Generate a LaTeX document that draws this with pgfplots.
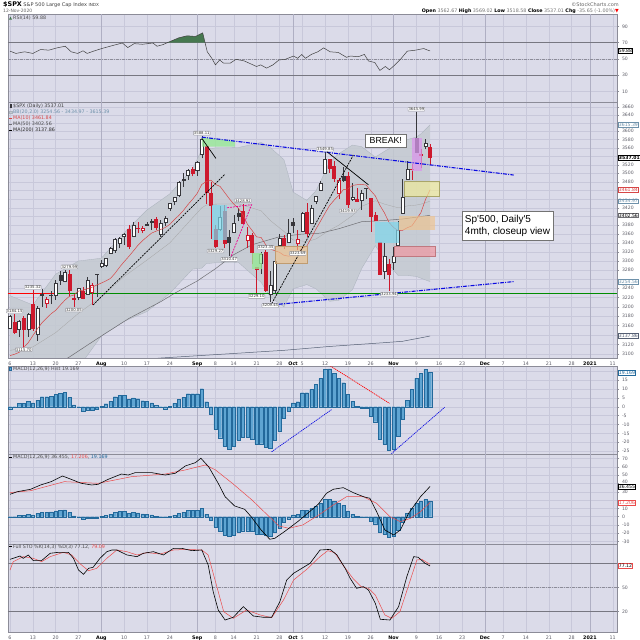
\documentclass[border=0pt]{standalone}
\usepackage{pgfplots}
\pgfplotsset{compat=1.18}
\usepackage{pgfplotstable}
\usepackage{fontspec}
\setmainfont{DejaVu Sans}
\newfontfamily\arialf{Liberation Sans}

\definecolor{panelbg}{RGB}{219,219,233}
\definecolor{gridc}{RGB}{200,200,218}
\definecolor{monthc}{RGB}{175,175,195}
\definecolor{bordc}{RGB}{140,140,152}
\definecolor{tickc}{RGB}{95,95,105}
\definecolor{bbfill}{RGB}{196,202,209}
\definecolor{bbline}{RGB}{170,178,188}
\definecolor{cred}{RGB}{205,25,45}
\definecolor{cdark}{RGB}{55,55,60}
\definecolor{ma10c}{RGB}{215,70,70}
\definecolor{ma50c}{RGB}{110,110,115}
\definecolor{ma200c}{RGB}{85,95,115}
\definecolor{histfill}{RGB}{95,165,210}
\definecolor{histdraw}{RGB}{35,105,155}
\definecolor{sigred}{RGB}{235,75,75}
\definecolor{rsigreen}{RGB}{70,120,80}
\definecolor{tblue}{RGB}{10,10,225}
\definecolor{bbtext}{RGB}{110,145,170}
\definecolor{lblgray}{RGB}{150,150,160}
\definecolor{zgreen}{RGB}{150,232,150}
\definecolor{zcyan}{RGB}{125,215,235}
\definecolor{zorange}{RGB}{240,195,140}
\definecolor{zpink}{RGB}{240,150,160}
\definecolor{zyellow}{RGB}{242,236,150}
\definecolor{zviolet}{RGB}{218,150,235}

% daily candles, 6 Jul - 12 Nov 2020 (row = trading day)
\pgfplotstableread{
i o h l c
0 3155.29 3182.59 3155.29 3179.72
1 3166.44 3184.15 3142.93 3145.32
2 3153.07 3171.80 3136.53 3169.94
3 3176.17 3179.78 3115.70 3152.05
4 3152.47 3186.82 3136.22 3185.04
5 3205.08 3235.32 3149.43 3155.22
6 3141.11 3200.95 3127.66 3197.52
7 3225.98 3238.28 3200.76 3226.56
8 3208.36 3220.39 3198.59 3215.57
9 3224.21 3233.52 3205.65 3224.73
10 3224.29 3258.61 3215.16 3251.84
11 3268.52 3277.29 3247.77 3257.30
12 3254.86 3279.32 3253.10 3276.02
13 3271.64 3279.99 3222.66 3235.66
14 3218.58 3227.26 3200.05 3215.63
15 3219.84 3241.43 3214.25 3239.41
16 3234.27 3243.72 3216.17 3218.44
17 3227.22 3264.74 3227.22 3258.44
18 3231.76 3250.92 3204.13 3246.22
19 3270.45 3272.17 3220.26 3271.12
20 3288.26 3302.73 3284.53 3294.61
21 3289.92 3306.84 3286.37 3306.51
22 3317.37 3330.77 3317.37 3327.77
23 3323.17 3351.03 3318.14 3349.16
24 3340.05 3352.54 3328.72 3351.28
25 3356.04 3363.29 3335.44 3360.47
26 3370.34 3381.01 3326.44 3333.69
27 3355.46 3387.89 3355.46 3380.35
28 3372.95 3387.24 3363.35 3373.43
29 3368.66 3378.51 3361.64 3372.85
30 3380.86 3387.59 3379.22 3381.99
31 3387.04 3395.06 3370.15 3389.78
32 3392.51 3399.54 3369.66 3374.85
33 3360.48 3390.80 3354.69 3385.51
34 3386.01 3399.96 3379.31 3397.16
35 3418.09 3432.09 3413.13 3431.28
36 3435.95 3444.21 3425.84 3443.62
37 3449.97 3481.07 3444.15 3478.73
38 3485.14 3501.38 3468.35 3484.55
39 3494.69 3509.23 3484.32 3508.01
40 3509.73 3514.77 3493.25 3500.31
41 3507.44 3528.03 3494.60 3526.65
42 3543.76 3588.11 3535.23 3580.84
43 3564.74 3564.85 3427.41 3455.06
44 3453.60 3479.15 3349.63 3426.96
45 3371.88 3379.97 3329.27 3331.84
46 3369.82 3424.77 3366.84 3398.96
47 3412.56 3425.55 3329.25 3339.19
48 3352.70 3368.95 3310.47 3340.97
49 3363.56 3402.93 3363.56 3383.54
50 3407.73 3419.48 3389.25 3401.20
51 3411.23 3428.92 3384.45 3385.49
52 3346.86 3375.17 3328.82 3357.01
53 3357.38 3362.27 3292.40 3319.47
54 3285.57 3285.57 3229.10 3281.06
55 3295.75 3320.31 3270.95 3315.57
56 3320.11 3323.35 3232.57 3236.92
57 3226.14 3278.70 3209.45 3246.59
58 3236.66 3306.88 3228.44 3298.46
59 3333.90 3360.74 3332.91 3351.60
60 3350.92 3357.92 3327.54 3335.47
61 3341.21 3393.56 3340.47 3363.00
62 3385.87 3397.18 3361.39 3380.80
63 3338.94 3369.10 3323.69 3348.44
64 3367.27 3409.57 3367.27 3408.63
65 3408.74 3431.56 3354.54 3360.97
66 3384.56 3426.26 3384.56 3419.44
67 3434.28 3447.28 3428.15 3446.83
68 3459.67 3482.34 3458.07 3477.13
69 3500.02 3549.85 3499.61 3534.22
70 3534.01 3534.01 3500.86 3511.93
71 3515.47 3527.94 3480.55 3488.67
72 3453.72 3489.08 3440.89 3483.34
73 3493.50 3515.76 3480.45 3483.81
74 3493.66 3502.42 3419.93 3426.92
75 3439.38 3476.93 3435.65 3443.12
76 3439.91 3464.86 3433.06 3435.56
77 3438.50 3460.53 3415.34 3453.49
78 3464.90 3466.46 3440.45 3465.39
79 3441.42 3441.42 3364.86 3400.97
80 3403.15 3409.51 3388.71 3390.68
81 3342.48 3342.48 3268.89 3271.03
82 3277.17 3341.05 3259.82 3310.11
83 3293.59 3304.93 3233.94 3269.96
84 3296.20 3330.14 3279.74 3310.24
85 3336.25 3389.49 3336.25 3369.16
86 3406.46 3486.25 3405.17 3443.44
87 3485.74 3529.05 3485.74 3510.45
88 3508.34 3521.58 3484.34 3509.44
89 3583.04 3645.99 3547.48 3550.50
90 3543.26 3557.22 3511.91 3545.53
91 3563.22 3581.16 3557.00 3572.66
92 3562.67 3569.02 3518.58 3537.01
}\ohlc

\pgfplotstableread{
i v
0 3097.14
1 3099.89
2 3103.75
3 3113.92
4 3124.05
5 3138.67
6 3153.10
7 3165.72
8 3175.70
9 3185.17
10 3192.38
11 3203.58
12 3214.19
13 3222.55
14 3225.61
15 3234.02
16 3236.12
17 3239.30
18 3242.37
19 3247.01
20 3251.29
21 3256.21
22 3261.38
23 3272.73
24 3286.30
25 3298.40
26 3309.93
27 3322.12
28 3334.84
29 3345.01
30 3353.75
31 3362.08
32 3366.79
33 3370.42
34 3375.01
35 3382.09
36 3393.08
37 3402.92
38 3414.03
39 3427.55
40 3439.38
41 3453.07
42 3473.67
43 3480.62
44 3483.60
45 3473.66
46 3469.19
47 3455.24
48 3440.88
49 3428.43
50 3418.52
51 3404.41
52 3382.02
53 3368.46
54 3353.87
55 3352.25
56 3336.04
57 3326.78
58 3322.53
59 3319.34
60 3312.76
61 3310.52
62 3312.89
63 3315.79
64 3328.55
65 3333.09
66 3351.34
67 3371.36
68 3389.23
69 3407.49
70 3425.14
71 3437.71
72 3447.96
73 3461.50
74 3463.33
75 3471.54
76 3473.15
77 3473.82
78 3472.65
79 3459.32
80 3447.20
81 3425.43
82 3408.11
83 3386.72
84 3375.06
85 3367.66
86 3368.45
87 3374.14
88 3378.55
89 3393.50
90 3408.99
91 3439.15
92 3461.84
}\maten

% Bollinger band: upper, middle, lower
\pgfplotstableread{
i u m l
0 3224 3108 2992
5 3204 3115 3026
10 3271 3145 3018
15 3300 3186 3072
20 3306 3222 3138
25 3363 3266 3169
30 3415 3302 3190
35 3452 3340 3229
40 3511 3397 3282
42 3556 3420 3284
43 3557 3426 3294
45 3560 3428 3296
50 3561 3429 3297
55 3573 3413 3253
57 3561 3391 3221
60 3532 3366 3200
62 3456 3347 3239
65 3437 3343 3248
67 3459 3349 3239
70 3525 3369 3212
72 3546 3380 3214
75 3567 3402 3237
77 3563 3423 3283
80 3538 3436 3334
82 3552 3428 3304
85 3571 3420 3268
87 3580 3424 3268
89 3586 3426 3266
90 3594 3428 3262
92 3615.39 3434.97 3254.56
}\bb

% same band as one closed outline (upper left to right, lower right to left)
\pgfplotstableread{
i v
0 3224
5 3204
10 3271
15 3300
20 3306
25 3363
30 3415
35 3452
40 3511
42 3556
43 3557
45 3560
50 3561
55 3573
57 3561
60 3532
62 3456
65 3437
67 3459
70 3525
72 3546
75 3567
77 3563
80 3538
82 3552
85 3571
87 3580
89 3586
90 3594
92 3615.39
92 3254.56
90 3262
89 3266
87 3268
85 3268
82 3304
80 3334
77 3283
75 3237
72 3214
70 3212
67 3239
65 3248
62 3239
60 3200
57 3221
55 3253
50 3297
45 3296
43 3294
42 3284
40 3282
35 3229
30 3190
25 3169
20 3138
15 3072
10 3018
5 3026
0 2992
}\bbarea

\pgfplotstableread{
i v
10 3078
13 3094
20 3138
26 3175
33 3211
36 3229
41 3256
45 3283
49 3314
53 3336
59 3354
64 3360
68 3362
72 3372
77 3388
82 3391
86 3394
92 3402.56
}\mafifty

\pgfplotstableread{
i v
25 3086
33 3092
50 3102
60 3108
70 3116
76 3120
82 3124
86 3127
92 3137.86
}\matwohundred

\pgfplotstableread{
i v
0 59.6
1.3 56.8
3.2 58.8
5 56.8
6.7 61.6
8.5 60.8
10.3 63.6
12.1 65.6
13.4 58.8
14.8 56.8
16 60
16.9 56.8
18.3 59.6
20.1 62.8
21.9 65.6
24.6 69.6
25.8 64
27.2 68.8
29 68
31.3 69.6
32.2 65.6
33.5 67.6
34.8 70.8
37 76
38.8 78.4
40.6 77.6
42.2 82
43.2 58.8
44.2 50.8
45 42.8
45.9 48.8
46.8 44.8
48.2 44.8
49.5 49.6
51.3 47.6
54 40.8
54.9 42.8
56.2 38.8
57.6 42.8
58.9 48.8
60.3 49.6
61.2 51.6
62.1 53.6
63 50.8
63.9 55.6
64.7 50.8
66 55.6
67.4 58.8
68.7 63.6
70.1 58.8
71.9 58
73.7 52
74.5 53.6
76.3 52.8
77.6 55.6
78.5 47.6
79.9 45.6
81 36
82.2 40.8
83.1 36.8
84.3 42.8
85.7 50.8
87 59.6
88.8 60.8
90.6 62.8
91.5 60.8
92 59.88
}\rsi

\pgfplotstableread{
i v
0 -1.1
1 -0.5
2 1.9
3 1.9
4 3.0
5 2.2
6 3.7
7 5.6
8 5.6
9 5.8
10 6.9
11 7.5
12 8.1
13 5.1
14 1.1
15 -0.4
16 -2.6
17 -1.7
18 -2.2
19 -1.5
20 0.2
21 1.7
22 3.2
23 5.6
24 6.4
25 6.4
26 4.1
27 4.9
28 4.5
29 3.4
30 3.0
31 2.2
32 0.7
33 -0.4
34 -1.1
35 0.4
36 1.9
37 4.1
38 5.4
39 7.3
40 7.3
41 7.3
42 10.1
43 2.8
44 -4.3
45 -12.7
46 -17.4
47 -22.1
48 -24.0
49 -22.1
50 -18.7
51 -16.9
52 -16.9
53 -18.0
54 -21.0
55 -20.8
56 -22.8
57 -23.2
58 -18.7
59 -13.7
60 -6.7
61 -2.4
62 2.2
63 2.8
64 7.9
65 7.9
66 9.7
67 12.5
68 15.8
69 21.0
70 21.3
71 18.7
72 15.9
73 13.5
74 6.9
75 3.2
76 0.4
77 -0.9
78 -0.9
79 -5.2
80 -8.4
81 -18.4
82 -21.0
83 -24.3
84 -24.0
85 -16.5
86 -7.1
87 3.7
88 9.9
89 15.9
90 18.7
91 21.0
92 19.169
}\hist

\pgfplotstableread{
i v
0 27.0
1.6 30.1
4.5 33
6.7 38.2
9.0 42.2
11.5 49
13.4 45
15.6 40.2
17.9 38.2
19.3 39
21.5 45
24.4 51.4
25.9 50.2
27.4 53
31.1 53
34 50.2
36.2 52.3
38.4 61.1
40.6 65.1
41.8 70.4
43.5 60.2
45.6 40.2
47.1 24.1
49.2 12.9
51.4 8.9
52.8 0
55.0 -16
56.9 -27.2
58.0 -26
60.1 -18
63.0 -6
65.2 4.1
67.5 15
69.3 28.2
70.8 33
73.0 35
75.2 28.9
77.4 24.1
78.8 22.2
80.3 6
82.1 -16
84.0 -22
85.5 -16
87.3 4.1
89.9 24.1
92 36.455
}\macd

\pgfplotstableread{
i v
0 29
4.5 31.3
11.9 42.2
19.3 40.2
26.6 48.2
34 51.4
38.4 56.3
42.8 62.3
45 56.3
48.7 40.2
53 20.1
56 4.1
58.9 -11.2
61.1 -14
64.1 -10
67.6 2
70.8 14.1
73.7 24.1
77.4 24.1
80.3 16.1
83.2 0
85.5 -6
87.7 -2
89.9 6
92 17.206
}\signal

\pgfplotstableread{
i v
0 85.5
0.7 86.7
2.2 89.6
2.9 86.7
4.0 90.9
5.1 83.8
6.9 83.8
8.8 93
10.6 94.2
12.8 94.2
13.9 86.7
15 72.1
16.1 66.7
17.2 74.2
18.2 75.5
19.7 86.7
21.2 95
22.3 97.1
23.4 97.1
25.6 90.9
27.8 88.8
29.2 93
31.4 95
33.6 90.9
35.8 99.2
37.6 99.2
39.8 96.3
42.0 97.1
43.4 78.4
44.5 45
45.6 22.1
47.1 9.6
48.9 13
51.1 26.3
53.3 14.6
55.5 13
57.3 13
59.1 32.5
60.6 59.6
62.1 68
63.9 74.2
65.7 80.4
67.9 97.1
70.1 97.9
71.6 90.9
73.4 74.2
74.5 61.7
75.9 49.2
77.4 51.3
78.5 47.1
80 30.5
81.1 10.5
83.2 9.6
85.1 26.3
86.9 63.7
88.4 88.8
89.4 88
90.9 80.4
92 77.12
}\stok

\pgfplotstableread{
i v
0 72
0.7 82.5
2.9 88.8
5.1 86.7
6.9 82.5
8.8 88.8
11.7 94.2
13.5 90.9
15.4 79.6
17.2 71.2
19 74.2
21.2 86.7
23.4 97.1
25.6 95
27.8 90.9
30 93.8
32.9 92.1
35.8 97.1
38.7 97.9
42 97.1
43.4 90.9
45.3 51.3
46.8 20
48.9 11.7
51.8 22.1
54.8 15.9
57.3 12.5
59.9 34.6
62.1 59.6
65 73
67.9 88.8
69.6 96.3
71.1 93.8
72.9 78.4
75.1 61.7
76.9 51.3
78.5 49.2
80 40.9
82.1 15.9
83.6 11.7
85.4 20
87.2 51.3
89.1 84.6
90.2 85.4
92 79.09
}\stod

\newcommand{\mon}[1]{\textbf{\color{black}#1}}
\newcommand{\smallf}{\fontsize{4.8}{5.5}\selectfont}

\pgfplotsset{
  panel/.style={
    scale only axis, width=609.3pt, anchor=north west,
    xmin=-0.44, xmax=133,
    axis background/.style={fill=panelbg},
    axis line style={draw=bordc, line width=0.5pt},
    xtick={0,5,10,15,20,25,30,35,41,45,49,54,59,62,64,69,74,79,84,89,94,99,104,108,113,118,123,127,132},
    xticklabels={},
    xmajorgrids, ymajorgrids,
    major grid style={draw=gridc, line width=0.4pt},
    extra x ticks={20,41,62,84,104,127},
    extra x tick labels={},
    extra x tick style={major grid style={draw=monthc, line width=0.5pt}},
    xtick pos=bottom,
    ytick pos=right, yticklabel pos=right,
    xtick style={draw=none},
    ytick style={draw=bordc, line width=0.4pt},
    major tick length=2pt, tick align=outside,
    yticklabel style={font=\fontsize{4.6}{5}\selectfont, text=tickc, xshift=-0.8pt},
    xticklabel style={font=\fontsize{4.8}{5}\selectfont, text=tickc},
    clip mode=individual,
    /pgf/number format/assume math mode=true,
  },
  datelabels/.style={
    xticklabels={6,13,20,27,\mon{Aug},10,17,24,\mon{Sep},8,14,21,28,\mon{Oct},5,12,19,26,\mon{Nov},9,16,23,\mon{Dec},7,14,21,28,\mon{2021},11},
  },
}
\tikzset{
  vbox/.style={draw=#1, fill=white, inner sep=0.6pt, anchor=west, font=\fontsize{4.6}{5}\selectfont, xshift=0.8pt},
  plbl/.style={draw=lblgray, fill=white, rounded corners=0.6pt, inner sep=0.5pt, font=\fontsize{3.8}{4}\selectfont, text=black!80},
}

\begin{document}
\begin{tikzpicture}
\path[use as bounding box, fill=white] (0,0) rectangle (640pt,-640pt);

% ---------------- RSI ----------------
\begin{axis}[panel, at={(8pt,-14pt)}, height=88pt, ymin=-2.7, ymax=105.1,
  ytick={10,30,50,70,90}]
\addplot[draw=bordc!85!black, line width=0.6pt] coordinates {(-0.44,70) (133,70)};
\addplot[draw=bordc!85!black, line width=0.6pt] coordinates {(-0.44,30) (133,30)};
\addplot[draw=bordc, line width=0.5pt, dash pattern=on 3pt off 1pt on 1pt off 1pt] coordinates {(-0.44,50) (133,50)};
\addplot[fill=rsigreen, draw=none] coordinates {(34.6,70) (34.8,70.8) (37,76) (38.8,78.4) (40.6,77.6) (42.2,82) (42.7,70)} -- cycle;
\addplot[draw=black!75, line width=0.5pt] table[x=i,y=v] {\rsi};
\node[vbox=black] at (axis cs:133,59.88) {59.88};
\end{axis}

% ---------------- price ----------------
\begin{axis}[panel, datelabels, at={(8pt,-102pt)}, height=256pt, ymode=log,
  ymin=3092.3, ymax=3671.7,
  ytick={3100,3120,3140,3160,3180,3200,3220,3240,3260,3280,3300,3320,3340,3360,3380,3400,3420,3440,3460,3480,3500,3520,3540,3560,3580,3600,3620,3640,3660},
  yticklabels={3100,3120,{},3160,3180,3200,3220,3240,{},3280,3300,3320,3340,3360,3380,{},3420,{},{},3480,3500,3520,{},3560,3580,3600,{},3640,3660},
  xticklabel style={yshift=1.2pt}]
% Bollinger band
\addplot[fill=bbfill, fill opacity=0.85, draw=none] table[x=i,y=v] {\bbarea} -- cycle;
\addplot[draw=bbline, line width=0.3pt] table[x=i,y=u] {\bb};
\addplot[draw=bbline, line width=0.3pt] table[x=i,y=l] {\bb};
\addplot[draw=black!35, line width=0.3pt] table[x=i,y=m] {\bb};
% moving averages
\addplot[draw=ma200c, line width=0.5pt] table[x=i,y=v] {\matwohundred};
\addplot[draw=ma50c, line width=0.5pt] table[x=i,y=v] {\mafifty};
% support line
\addplot[draw=green!55!black, line width=1pt] coordinates {(-0.44,3228) (133,3228)};
\addplot[draw=red, line width=1pt] coordinates {(-0.44,3228) (9.9,3228)};
% candles
\pgfplotsinvokeforeach{0,...,92}{%
  \pgfplotstablegetelem{#1}{o}\of\ohlc \let\cdlo\pgfplotsretval
  \pgfplotstablegetelem{#1}{h}\of\ohlc \let\cdlh\pgfplotsretval
  \pgfplotstablegetelem{#1}{l}\of\ohlc \let\cdll\pgfplotsretval
  \pgfplotstablegetelem{#1}{c}\of\ohlc \let\cdlc\pgfplotsretval
  \pgfmathtruncatemacro\cdlprev{max(#1-1,0)}%
  \pgfplotstablegetelem{\cdlprev}{c}\of\ohlc \let\cdlp\pgfplotsretval
  \pgfmathtruncatemacro\cdldn{\cdlc<\cdlp ? 1 : 0}%
  \pgfmathtruncatemacro\cdlfl{\cdlc<\cdlo ? 1 : 0}%
  \ifnum\cdldn=1 \def\cdlcol{cred}\else\def\cdlcol{cdark}\fi
  \ifnum\cdlfl=1 \let\cdlfill\cdlcol\else\def\cdlfill{white}\fi
  \pgfmathsetmacro\cdlxa{#1-0.33}%
  \pgfmathsetmacro\cdlxb{#1+0.33}%
  \edef\cdldo{%
    \noexpand\addplot[draw=\cdlcol, line width=0.45pt] coordinates {(#1,\cdll) (#1,\cdlh)};%
    \noexpand\addplot[draw=\cdlcol, fill=\cdlfill, line width=0.45pt] coordinates {(\cdlxa,\cdlo) (\cdlxb,\cdlo) (\cdlxb,\cdlc) (\cdlxa,\cdlc)} -- cycle;%
  }\cdldo
}
\addplot[draw=ma10c, line width=0.5pt] table[x=i,y=v] {\maten};
% coloured zones
\addplot[fill=zgreen, fill opacity=0.8, draw=none] coordinates {(42,3586) (49.3,3576) (49.3,3563) (42,3563)} -- cycle;
\addplot[fill=zcyan, fill opacity=0.7, draw=none] coordinates {(44.2,3347) (47.5,3347) (47.5,3427) (44.2,3427)} -- cycle;
\addplot[fill=zgreen, fill opacity=0.8, draw=none] coordinates {(52.9,3282) (55.1,3282) (55.1,3317) (52.9,3317)} -- cycle;
\addplot[fill=zorange, fill opacity=0.65, draw=zorange!80!black, line width=0.3pt] coordinates {(58,3296) (65,3296) (65,3332) (58,3332)} -- cycle;
\addplot[fill=zcyan, fill opacity=0.7, draw=none] coordinates {(80,3340) (85.1,3340) (85.1,3388) (80,3388)} -- cycle;
\addplot[fill=zorange, fill opacity=0.65, draw=none] coordinates {(85.1,3370) (93.1,3370) (93.1,3400) (85.1,3400)} -- cycle;
\addplot[fill=zpink, fill opacity=0.7, draw=zpink!80!black, line width=0.3pt] coordinates {(84.1,3310) (93.1,3310) (93.1,3333.6) (84.1,3333.6)} -- cycle;
\addplot[fill=zyellow, fill opacity=0.65, draw=zyellow!70!black, line width=0.2pt] coordinates {(86.2,3446) (94,3446) (94,3482) (86.2,3482)} -- cycle;
\addplot[fill=zviolet, fill opacity=0.75, draw=none] coordinates {(88,3505.6) (90.2,3505.6) (90.2,3583) (88,3583)} -- cycle;
% trend lines
\addplot[draw=tblue, line width=1.1pt, dash pattern=on 4pt off 1.2pt on 1pt off 1.2pt] coordinates {(42,3586) (110.3,3496)};
\addplot[draw=tblue, line width=1.1pt, dash pattern=on 4pt off 1.2pt on 1pt off 1.2pt] coordinates {(57.3,3204) (110.3,3254.7)};
\addplot[draw=black, line width=0.7pt, dash pattern=on 2pt off 1pt] coordinates {(18.2,3204) (47.1,3498)};
\addplot[draw=black, line width=0.7pt, dash pattern=on 2pt off 1pt] coordinates {(57.3,3207) (75.2,3543)};
\addplot[draw=black, line width=0.7pt] coordinates {(42,3583) (45.1,3535)};
\addplot[draw=black, line width=0.7pt] coordinates {(69.4,3551) (78.5,3473)};
\addplot[draw=magenta, line width=0.7pt, dash pattern=on 2pt off 1pt] coordinates {(47.5,3420) (52.9,3427) (48.2,3305)};
% price labels
\node[plbl, anchor=south, yshift=1pt] at (axis cs:1,3184.15) {3184.15};
\node[plbl, anchor=south, yshift=1pt] at (axis cs:5,3235.32) {3235.32};
\node[plbl, anchor=south, yshift=1pt] at (axis cs:13,3279.99) {3279.99};
\node[plbl, anchor=south, yshift=1pt] at (axis cs:42,3588.11) {3588.11};
\node[plbl, anchor=south, yshift=1pt] at (axis cs:51,3428.92) {3428.92};
\node[plbl, anchor=south, yshift=1pt] at (axis cs:56,3323.35) {3323.35};
\node[plbl, anchor=south, yshift=1pt] at (axis cs:69,3549.85) {3549.85};
\node[plbl, anchor=south, yshift=1pt] at (axis cs:89,3645.99) {3645.99};
\node[plbl, anchor=north, yshift=-1pt] at (axis cs:3,3115.70) {3115.70};
\node[plbl, anchor=north, yshift=-1pt] at (axis cs:14,3200.05) {3200.05};
\node[plbl, anchor=north, yshift=-1pt] at (axis cs:45,3329.27) {3329.27};
\node[plbl, anchor=north, yshift=-1pt] at (axis cs:48,3310.47) {3310.47};
\node[plbl, anchor=north, yshift=-1pt] at (axis cs:54,3229.10) {3229.10};
\node[plbl, anchor=north, yshift=-1pt] at (axis cs:57,3209.45) {3209.45};
\node[plbl, anchor=north, yshift=-1pt] at (axis cs:63,3323.69) {3323.69};
\node[plbl, anchor=north, yshift=-1pt] at (axis cs:74,3419.93) {3419.93};
\node[plbl, anchor=north, yshift=-1pt] at (axis cs:83,3233.94) {3233.94};
% right value tags
\node[vbox=bbtext, text=bbtext] at (axis cs:133,3615.39) {3615.39};
\node[vbox=black, font=\fontsize{4.6}{5}\bfseries] at (axis cs:133,3537.01) {3537.01};
\node[vbox=ma10c, text=ma10c] at (axis cs:133,3461.84) {3461.84};
\node[vbox=bbtext, text=bbtext] at (axis cs:133,3434.97) {3434.97};
\node[vbox=ma50c] at (axis cs:133,3402.56) {3402.56};
\node[vbox=bbtext, text=bbtext] at (axis cs:133,3254.56) {3254.56};
\node[vbox=ma200c, text=ma200c] at (axis cs:133,3137.86) {3137.86};
\end{axis}

% ---------------- MACD histogram ----------------
\begin{axis}[panel, at={(8pt,-366pt)}, height=88pt, ymin=-26.57, ymax=22.87,
  ytick={-25,-20,-15,-10,-5,0,5,10,15,20},
  yticklabels={-25,-20,-15,-10,-5,0,5,10,15,{}}]
\addplot[ybar, bar width=3.3pt, fill=histfill, draw=histdraw, line width=0.3pt] table[x=i,y=v] {\hist};
\addplot[draw=tblue, line width=0.7pt, dash pattern=on 1.2pt off 0.8pt] coordinates {(57.3,-25.3) (70.5,-1.5)};
\addplot[draw=tblue, line width=0.7pt, dash pattern=on 1.2pt off 0.8pt] coordinates {(83.2,-27.1) (95.2,-0.3)};
\addplot[draw=red, line width=0.7pt, dash pattern=on 1.2pt off 0.8pt] coordinates {(70.1,23) (83.1,1.9)};
\node[vbox=histdraw, text=histdraw] at (axis cs:133,19.169) {19.169};
\end{axis}

% ---------------- MACD ----------------
\begin{axis}[panel, at={(8pt,-454pt)}, height=90pt, ymin=-32.9, ymax=75.5,
  ytick={-30,-20,-10,0,10,20,30,40,50,60,70},
  yticklabels={-30,-20,-10,0,10,{},30,\raisebox{2.4pt}{40},50,60,70}]
\addplot[ybar, bar width=3.3pt, fill=histfill, draw=histdraw, line width=0.3pt] table[x=i,y=v] {\hist};
\addplot[draw=sigred, line width=0.5pt] table[x=i,y=v] {\signal};
\addplot[draw=black, line width=0.6pt] table[x=i,y=v] {\macd};
\node[vbox=black] at (axis cs:133,36.455) {36.455};
\node[vbox=sigred, text=sigred] at (axis cs:133,17.206) {17.206};
\end{axis}

% ---------------- Full STO ----------------
\begin{axis}[panel, datelabels, at={(8pt,-544pt)}, height=88pt, ymin=-5.4, ymax=104.6,
  ytick={20,50,80}, yticklabels={20,50,{}},
  xticklabel style={yshift=1.2pt}]
\addplot[draw=bordc!85!black, line width=0.6pt] coordinates {(-0.44,80) (133,80)};
\addplot[draw=bordc!85!black, line width=0.6pt] coordinates {(-0.44,20) (133,20)};
\addplot[draw=bordc, line width=0.5pt, dash pattern=on 3pt off 1pt on 1pt off 1pt] coordinates {(-0.44,50) (133,50)};
\addplot[draw=sigred, line width=0.5pt] table[x=i,y=v] {\stod};
\addplot[draw=black, line width=0.6pt] table[x=i,y=v] {\stok};
\node[vbox=sigred] at (axis cs:133,77.12) {77.12};
\end{axis}

% ---------------- texts ----------------
\node[anchor=west, font=\fontsize{5}{6}\selectfont, text=black!75, inner sep=0pt] at (3pt,-5pt)
  {{\fontsize{6.4}{7}\selectfont\bfseries\color{black}\$SPX} S\&P 500 Large Cap Index {\fontsize{4.2}{5}\selectfont INDX}};
\node[anchor=west, font=\fontsize{4.5}{5}\selectfont, text=black!60, inner sep=0pt] at (3pt,-11.3pt) {12-Nov-2020};
\node[anchor=east, font=\fontsize{5}{6}\selectfont, text=black!60, inner sep=0pt] at (619pt,-5pt) {©StockCharts.com};
\node[anchor=east, font=\fontsize{4.8}{5}\selectfont, inner sep=0pt] at (619pt,-11.3pt)
  {\textbf{Open} {\color{black!55}3562.67} \textbf{High} {\color{black!55}3569.02} \textbf{Low} {\color{black!55}3518.58} \textbf{Close} {\color{black!55}3537.01} \textbf{Chg} {\color{black!55}-35.65 (-1.00\%)}{\color{red}▼}};

\node[anchor=west, font=\smallf, text=black!70, inner sep=0pt] at (13pt,-18pt) {RSI(14) 59.88};
\fill[rsigreen] (9pt,-19.5pt) -- (10.5pt,-16.5pt) -- (12pt,-19.5pt) -- cycle;

\node[anchor=west, font=\smallf, text=black!75, inner sep=0pt] at (13pt,-105.7pt) {\$SPX (Daily) 3537.01};
\node[anchor=west, font=\smallf, text=bbtext, inner sep=0pt] at (13pt,-112pt) {BB(20,2.0) 3254.56 - 3434.97 - 3615.39};
\node[anchor=west, font=\smallf, text=ma10c, inner sep=0pt] at (13pt,-118pt) {MA(10) 3461.84};
\node[anchor=west, font=\smallf, text=black!70, inner sep=0pt] at (13pt,-124pt) {MA(50) 3402.56};
\node[anchor=west, font=\smallf, text=black!85, inner sep=0pt] at (13pt,-130pt) {MA(200) 3137.86};
\draw[cdark, line width=0.5pt] (10.5pt,-103.8pt) -- (10.5pt,-107.6pt);
\fill[white, draw=cdark, line width=0.3pt] (9.8pt,-104.6pt) rectangle (11.2pt,-106.8pt);
\fill[bbfill, draw=bbline, line width=0.3pt] (9.3pt,-110.8pt) rectangle (11.8pt,-113.2pt);
\draw[ma10c, line width=0.7pt] (9.3pt,-118pt) -- (11.8pt,-118pt);
\draw[ma50c, line width=0.7pt] (9.3pt,-124pt) -- (11.8pt,-124pt);
\draw[black, line width=0.7pt] (9.3pt,-130pt) -- (11.8pt,-130pt);

\node[anchor=west, font=\smallf, text=black!70, inner sep=0pt] at (13pt,-369pt) {MACD(12,26,9) Hist 19.169};
\fill[histfill, draw=histdraw, line width=0.3pt] (9.5pt,-367.6pt) rectangle (11.5pt,-370.4pt);
\node[anchor=west, font=\smallf, text=black!70, inner sep=0pt] at (13pt,-457.3pt) {MACD(12,26,9) 36.455, {\color{sigred}17.206}, {\color{histdraw}19.169}};
\draw[black, line width=0.7pt] (9.3pt,-457.3pt) -- (11.8pt,-457.3pt);
\node[anchor=west, font=\smallf, text=black!70, inner sep=0pt] at (13pt,-546.5pt) {Full STO \%K(14,3) \%D(3) 77.12, {\color{sigred}79.09}};
\draw[black, line width=0.7pt] (9.3pt,-546.5pt) -- (11.8pt,-546.5pt);

\node[draw=black!55, fill=white, inner sep=1pt, minimum width=40.3pt, minimum height=12.4pt,
  font=\arialf\fontsize{8.8}{10}\selectfont] at (385.8pt,-140.5pt) {BREAK!};
\node[draw=black!55, fill=white, align=left, inner sep=2pt, minimum width=91.6pt, minimum height=28.3pt,
  font=\arialf\fontsize{10}{12.6}\selectfont] at (507.5pt,-225.8pt) {Sp'500, Daily'5\\4mth, closeup view};
\end{tikzpicture}
\end{document}
